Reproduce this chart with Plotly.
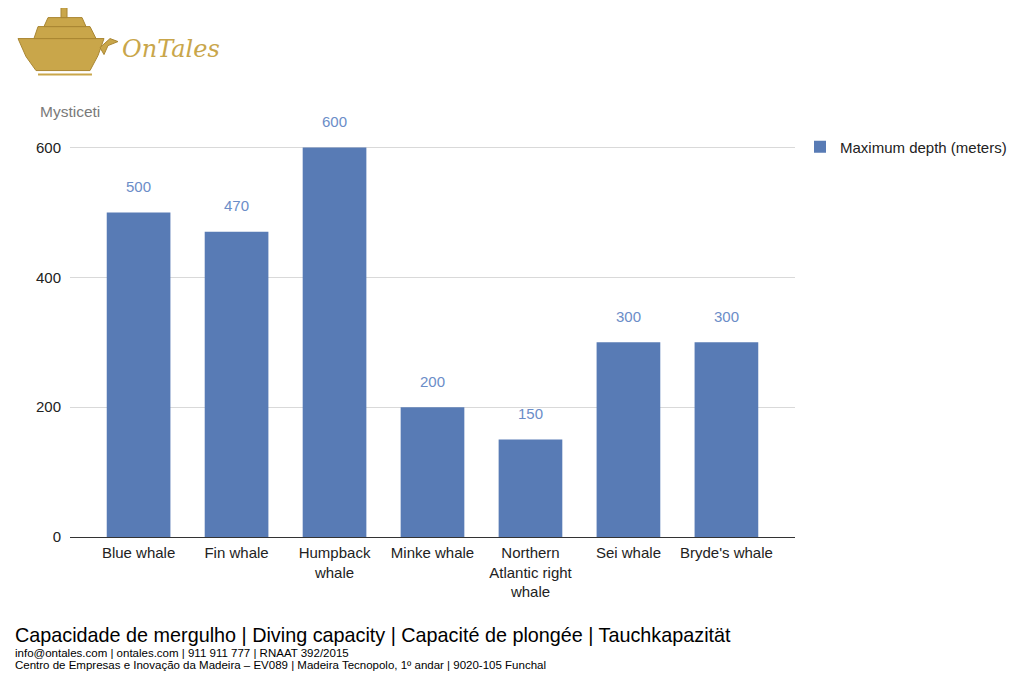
import plotly.graph_objects as go

# Data
species = ["Blue whale", "Fin whale", "Humpback whale", "Minke whale",
           "Northern Atlantic right whale", "Sei whale", "Bryde's whale"]
tick_labels = ["Blue whale", "Fin whale", "Humpback<br>whale", "Minke whale",
               "Northern<br>Atlantic right<br>whale", "Sei whale", "Bryde's whale"]
max_depth = [500, 470, 600, 200, 150, 300, 300]
y_ticks = [0, 200, 400, 600]

# page offset of the figure (body margin) and plot area in page pixels
OFF = 8
W, H = 1024 - 2 * OFF, 677 - OFF
L, R, T, B = 70, 795, 114.5, 537


def px(x):
    return (x - L) / (R - L)


def py(y):
    return (B - y) / (B - T)


def path(points):
    return "M " + " L ".join(f"{px(x):.4f},{py(y):.4f}" for x, y in points) + " Z"


fig = go.Figure()
fig.add_trace(go.Bar(
    x=species, y=max_depth,
    name="Maximum depth (meters)",
    marker=dict(color="#587bb5", line=dict(width=0)),
    width=0.65,
))

# value labels above bars
for s, v in zip(species, max_depth):
    fig.add_annotation(x=s, y=v, text=str(v), showarrow=False, yshift=26,
                       font=dict(family="Liberation Sans, Arial", size=15, color="#6b8dc8"))

gold = "#c9a64a"
gold_dark = "#a98632"
# logo: simple ship + name
ship = [
    [(18, 38), (104, 38), (98, 55), (90, 70), (36, 70), (26, 56)],
    [(34, 38), (38, 26), (90, 26), (96, 38)],
    [(44, 26), (48, 17), (82, 17), (86, 26)],
    [(61, 17), (61, 7), (67, 7), (67, 17)],
    [(100, 47), (110, 38), (118, 41), (108, 45), (104, 54)],
]
for pts in ship:
    fig.add_shape(type="path", path=path(pts), xref="paper", yref="paper",
                  fillcolor=gold, line=dict(color=gold_dark, width=1), layer="above")
fig.add_shape(type="path", path=path([(38, 73), (92, 73), (92, 75), (38, 75)]),
              xref="paper", yref="paper", fillcolor=gold, line=dict(width=0))
fig.add_annotation(x=px(120), y=py(48), xref="paper", yref="paper", text="<i>OnTales</i>",
                   showarrow=False, xanchor="left", yanchor="middle",
                   font=dict(family="DejaVu Serif", size=24, color=gold))

# axis title text
fig.add_annotation(x=px(38), y=py(111), xref="paper", yref="paper", text="Mysticeti",
                   showarrow=False, xanchor="left", yanchor="middle",
                   font=dict(family="Liberation Sans, Arial", size=15.5, color="#7a7a7a"))

# footer
footer = [
    (635, "Capacidade de mergulho | Diving capacity | Capacité de plongée | Tauchkapazität", 19.8),
    (653, "info@ontales.com | ontales.com | 911 911 777 | RNAAT 392/2015", 11.5),
    (665.5, "Centro de Empresas e Inovação da Madeira – EV089 | Madeira Tecnopolo, 1º andar | 9020-105 Funchal", 11.5),
]
for yy, txt, sz in footer:
    fig.add_annotation(x=px(13), y=py(yy), xref="paper", yref="paper", text=txt,
                       showarrow=False, xanchor="left", yanchor="middle",
                       font=dict(family="Liberation Sans, Arial", size=sz, color="#000000"))

fig.update_layout(
    width=W, height=H,
    margin=dict(l=L - OFF, r=OFF + W - R, t=T - OFF, b=677 - B, pad=0, autoexpand=False),
    paper_bgcolor="white", plot_bgcolor="white",
    font=dict(family="Liberation Sans, Arial", size=15, color="#222222"),
    showlegend=True,
    legend=dict(xref="container", yref="container",
                x=(800 - OFF) / W, y=1 - (147 - OFF) / H, xanchor="left", yanchor="middle",
                font=dict(size=15, color="#222222"), itemwidth=30),
    xaxis=dict(range=[-0.7, 6.7], tickmode="array", tickvals=species, ticktext=tick_labels,
               showgrid=False, showline=False, ticks="", tickfont=dict(size=15, color="#222222"),
               ticklabelstandoff=5, fixedrange=True),
    yaxis=dict(range=[0, 650], tickvals=y_ticks, showgrid=True, gridcolor="#d9d9d9",
               zeroline=True, zerolinecolor="#333333", zerolinewidth=1,
               ticks="", tickfont=dict(size=15, color="#222222"), ticklabelstandoff=8,
               fixedrange=True),
)

fig.write_html("out.html")
